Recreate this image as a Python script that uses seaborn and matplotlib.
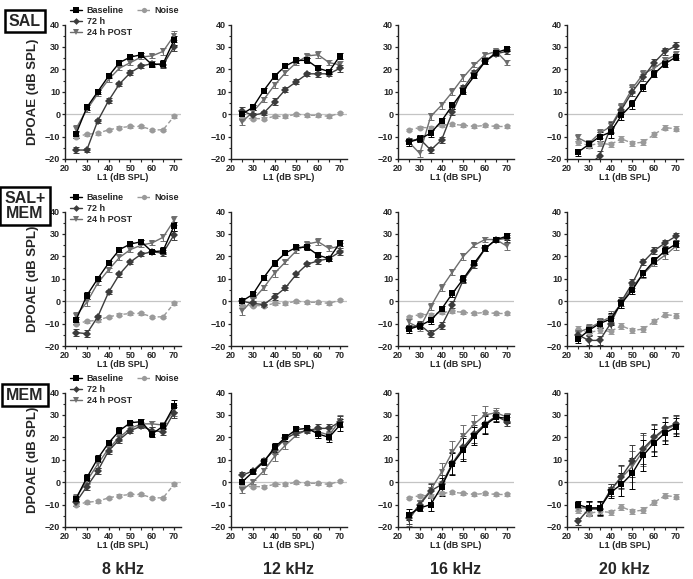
import pandas as pd
import seaborn as sns
import matplotlib
matplotlib.use("Agg")
import matplotlib.pyplot as plt
from matplotlib.lines import Line2D
from matplotlib.ticker import MultipleLocator

# L1 levels (dB SPL)
xs = [25, 30, 35, 40, 45, 50, 55, 60, 65, 70]
freqs = ["8 kHz", "12 kHz", "16 kHz", "20 kHz"]
groups = ["SAL", "SAL+\nMEM", "MEM"]

# SAL
sal_base_8 = [-9, 3, 10, 17, 23, 25.5, 26.5, 22, 22.5, 33]
sal_72h_8 = [-16, -16, -3, 6, 13.5, 18.5, 21.5, 22.5, 22, 30]
sal_post_8 = [-6.5, 2, 9, 15.5, 20.5, 23, 25.5, 26, 28, 35]
sal_base_12 = [0, 3, 10.5, 17, 21.5, 24, 24, 20.5, 19, 26]
sal_72h_12 = [1.5, -0.5, 0.5, 5.5, 11, 14.5, 18, 18, 18, 20.5]
sal_post_12 = [-3.5, 1, 6.5, 13, 18.5, 23, 26, 26.5, 23, 22]
sal_base_16 = [-12.5, -11, -8.5, -3, 4, 10.5, 17, 23.5, 27.5, 29]
sal_72h_16 = [-12, -11, -16, -11.5, 1, 11.5, 18.5, 23.5, 27, 28]
sal_post_16 = [-12.5, -17.5, -1, 4, 10, 16.5, 22, 26.5, 28, 23]
sal_base_20 = [-17, -13.5, -10, -8, -0.5, 4.5, 12, 18, 22.5, 25.5]
sal_72h_20 = [-25, -23, -18.5, -6, 2, 10, 16.5, 23, 28, 30.5]
sal_post_20 = [-10.5, -13, -8.5, -5.5, 3, 11.5, 18, 20.5, 24, 26.5]

# SAL+MEM
sm_base_8 = [-8.5, 2.5, 10, 17, 23, 25.5, 26.5, 22, 22.5, 33.5]
sm_72h_8 = [-14, -14.5, -7, 4, 12, 17.5, 21, 22, 21.5, 29.5]
sm_post_8 = [-6.5, -0.5, 8, 14, 19.5, 23, 25, 26, 28.5, 36]
sm_base_12 = [0, 3, 10.5, 17, 21.5, 24, 24, 20.5, 19, 26]
sm_72h_12 = [0, -1, -1.5, 2, 6, 12, 16.5, 18, 19, 22]
sm_post_12 = [-4.5, 0.5, 6, 12.5, 17.5, 22.5, 25.5, 26.5, 23.5, 24.5]
sm_base_16 = [-12.5, -11, -8.5, -3.5, 3.5, 10, 17, 23.5, 27.5, 29]
sm_72h_16 = [-12, -10.5, -14.5, -11, -1.5, 9.5, 16, 23.5, 27.5, 28]
sm_post_16 = [-9.5, -12, -2.5, 6, 13, 20, 25, 27.5, 27.5, 24.5]
sm_base_20 = [-17, -13, -10, -8, -1, 5, 12.5, 18, 22.5, 25.5]
sm_72h_20 = [-15, -17.5, -17.5, -10, 0, 8, 17.5, 22.5, 26, 29]
sm_post_20 = [-14, -12, -9.5, -7, -1, 6.5, 12, 17, 20.5, 24.5]

# MEM
mem_base_8 = [-7.5, 2, 10.5, 17.5, 23, 26.5, 27, 21.5, 25, 34]
mem_72h_8 = [-9, -2, 5, 14, 19, 23, 25, 23, 22.5, 31]
mem_post_8 = [-7, 0.5, 8, 15, 20, 24, 26, 26, 25.5, 32]
mem_base_12 = [0, 4.5, 9, 15.5, 20, 23.5, 24, 21.5, 20, 25.5]
mem_72h_12 = [3, 5, 9.5, 14.5, 19.5, 22, 23, 24, 24, 27]
mem_post_12 = [-3.5, 0, 5, 11.5, 16.5, 21, 23.5, 22.5, 21, 27.5]
mem_base_16 = [-14.5, -11.5, -10, -2, 8, 14.5, 20.5, 25.5, 29, 28.5]
mem_72h_16 = [-16, -10, -4, -1, 8.5, 15.5, 21.5, 26, 29.5, 27]
mem_post_16 = [-17, -9.5, -3.5, 4.5, 13.5, 20.5, 26, 30, 31, 29]
mem_base_20 = [-10, -11.5, -11.5, -4.5, -1, 4, 12, 17.5, 22, 24.5]
mem_72h_20 = [-17.5, -12, -12, -3.5, 2.5, 9.5, 15, 20, 24, 26]
mem_post_20 = [-11.5, -11.5, -11.5, -3.5, 2, 7, 14, 19.5, 23.5, 25.5]

# noise floor (same in every group)
noise_8 = [-10, -9, -8.5, -7, -6, -5.5, -5.5, -7, -7, -1]
noise_12 = [-2, -2, -2, -1, -1, 0, -0.5, -0.5, -1, 0.5]
noise_16 = [-7, -6, -6, -5, -4.5, -5, -5.5, -5, -5.5, -5.5]
noise_20 = [-12.5, -14, -13, -13.5, -11, -13, -12.5, -9, -6, -6.5]

# approx. SEM per panel (shared by the three conditions)
sal_err = [[1.5, 1, 1, 1, 1, 1, 1, 1, 1.5, 2],
           [1.5, 1, 1, 1.5, 1, 1, 1, 1.5, 1, 1.5],
           [1.5, 1.5, 1.5, 1.5, 1.5, 1.5, 1, 1, 1, 1],
           [1.5, 1.5, 2, 2.5, 2, 2, 1.5, 1.5, 1.5, 1.5]]
sm_err = [[1.5, 1.5, 1, 1, 1, 1, 1, 1, 1.5, 2],
          [1.5, 1, 1, 1.5, 1, 1, 1, 1.5, 1, 1.5],
          [1.5, 1.5, 1.5, 1.5, 1.5, 1.5, 1, 1, 1, 1.5],
          [1.5, 2, 2, 2.5, 2, 2, 1.5, 1.5, 1.5, 1.5]]
mem_err = [[1.5, 1.5, 1.5, 1.5, 1.5, 1, 1, 1.5, 1.5, 2.5],
           [1.5, 1, 1.5, 2, 1.5, 1, 1, 2, 2, 2.5],
           [2.5, 1.5, 3, 4, 5, 5, 4, 4, 2, 2],
           [1.5, 3, 3, 2.5, 5, 7, 7, 6, 5, 4]]
noise_err = [0.6, 0.6, 0.6, 1.2]

panels = [
    [(sal_base_8, sal_72h_8, sal_post_8), (sal_base_12, sal_72h_12, sal_post_12),
     (sal_base_16, sal_72h_16, sal_post_16), (sal_base_20, sal_72h_20, sal_post_20)],
    [(sm_base_8, sm_72h_8, sm_post_8), (sm_base_12, sm_72h_12, sm_post_12),
     (sm_base_16, sm_72h_16, sm_post_16), (sm_base_20, sm_72h_20, sm_post_20)],
    [(mem_base_8, mem_72h_8, mem_post_8), (mem_base_12, mem_72h_12, mem_post_12),
     (mem_base_16, mem_72h_16, mem_post_16), (mem_base_20, mem_72h_20, mem_post_20)],
]
noises = [noise_8, noise_12, noise_16, noise_20]
errs = [sal_err, sm_err, mem_err]

conds = ["Noise", "24 h POST", "72 h", "Baseline"]
pal = {"Baseline": "#000000", "72 h": "#3c3c3c", "24 h POST": "#6e6e6e", "Noise": "#9a9a9a"}
mk = {"Baseline": "s", "72 h": "D", "24 h POST": "v", "Noise": "o"}
ms = {"Baseline": 4.5, "72 h": 3.8, "24 h POST": 4.5, "Noise": 4.2}
dash = {"Baseline": "", "72 h": "", "24 h POST": "", "Noise": (3, 2)}

sns.set_style("ticks")
plt.rcParams["font.family"] = ["Liberation Sans", "DejaVu Sans"]
plt.rcParams["font.weight"] = "bold"

fig = plt.figure(figsize=(6.93, 5.79), dpi=100)
lefts = [65 / 693, 231 / 693, 398 / 693, 567 / 693]
bottoms = [1 - 159 / 579, 1 - 346 / 579, 1 - 527 / 579]
w, h = 115.5 / 693, 134.5 / 579

for r in range(3):
    for c in range(4):
        ax = fig.add_axes([lefts[c], bottoms[r], w, h])
        base, h72, post = panels[r][c]
        vals = {"Baseline": base, "72 h": h72, "24 h POST": post, "Noise": noises[c]}
        df = pd.concat([pd.DataFrame({"L1": xs, "dp": vals[k], "cond": k}) for k in conds])
        ax.axhline(0, color="#c4c4c4", lw=0.9, zorder=0)
        for k in conds:
            e = [noise_err[c]] * len(xs) if k == "Noise" else errs[r][c]
            ax.errorbar(xs, vals[k], yerr=e, fmt="none", ecolor=pal[k],
                        elinewidth=0.7, capsize=2, capthick=0.7, zorder=1)
        sns.lineplot(data=df, x="L1", y="dp", hue="cond", style="cond", hue_order=conds,
                     style_order=conds, palette=pal, markers=mk, dashes=dash,
                     linewidth=1.0, markersize=4.3, markeredgewidth=0, legend=False,
                     ax=ax, zorder=2)
        ax.set_xlim(20, 73)
        ax.set_ylim(-20, 40)
        ax.xaxis.set_major_locator(MultipleLocator(10))
        ax.xaxis.set_minor_locator(MultipleLocator(5))
        ax.yaxis.set_major_locator(MultipleLocator(10))
        ax.yaxis.set_minor_locator(MultipleLocator(5))
        ax.tick_params(which="major", length=2.5, width=0.9, labelsize=6.5, pad=1)
        ax.tick_params(which="minor", length=1.8, width=0.8)
        for s in ["left", "bottom"]:
            ax.spines[s].set_linewidth(1.0)
            ax.spines[s].set_color("#222222")
        sns.despine(ax=ax)
        for t in ax.get_xticklabels() + ax.get_yticklabels():
            t.set_fontweight("bold")
        ax.set_xlabel("L1 (dB SPL)", fontsize=6.5, fontweight="bold", labelpad=0)
        if c == 0:
            ax.set_ylabel("DPOAE (dB SPL)", fontsize=9.5, fontweight="bold", labelpad=4)
            handles = [Line2D([], [], color=pal[k], marker=mk[k], markersize=ms[k] * 0.9,
                              markeredgewidth=0, lw=1, ls="--" if k == "Noise" else "-")
                       for k in ["Baseline", "72 h", "24 h POST", "Noise"]]
            blank = Line2D([], [], alpha=0)
            leg = ax.legend(handles + [blank, blank],
                            ["Baseline", "72 h", "24 h POST", "Noise", "", ""],
                            ncol=2, loc="upper left", bbox_to_anchor=(0.04, 1.135),
                            frameon=False, fontsize=6.5, labelspacing=0.2,
                            handlelength=1.4, handletextpad=0.5, columnspacing=0.6,
                            borderpad=0, borderaxespad=0)
            for t in leg.get_texts():
                t.set_fontweight("bold")
        else:
            ax.set_ylabel("")
        if r == 2:
            fig.text(lefts[c] + w * (46.5 - 20) / 53, 0.016, freqs[c], ha="center",
                     va="center", fontsize=11.5, fontweight="bold")

label_y = [1 - 21 / 579, 1 - 206 / 579, 1 - 395 / 579]
for r in range(3):
    fig.text(25 / 693, label_y[r], groups[r], ha="center", va="center", fontsize=11.5,
             fontweight="bold", linespacing=1.0,
             bbox=dict(boxstyle="square,pad=0.25", fc="white", ec="black", lw=1.8))

fig.savefig("out.png", dpi=100)
